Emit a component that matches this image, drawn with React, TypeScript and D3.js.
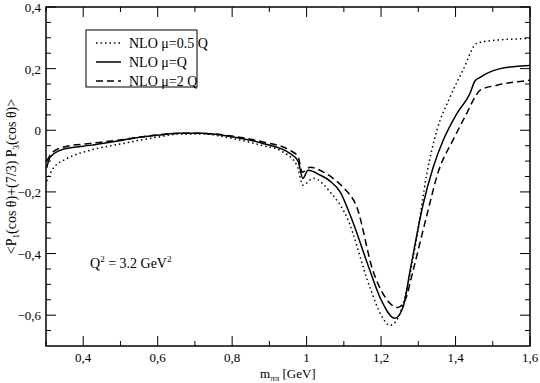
import * as d3 from "d3";
import React from "react";

// masses in GeV
const xsSolid = [0.302, 0.311, 0.338, 0.37, 0.418, 0.507, 0.552, 0.6, 0.66, 0.72, 0.794, 0.883, 0.955, 0.977, 0.99, 1.004, 1.036, 1.063, 1.09, 1.117, 1.17, 1.2, 1.237, 1.26, 1.278, 1.313, 1.34, 1.366, 1.404, 1.439, 1.452, 1.466, 1.49, 1.52, 1.56, 1.6];
const ysSolid = [-0.122, -0.087, -0.065, -0.056, -0.049, -0.032, -0.023, -0.016, -0.01, -0.01, -0.02, -0.043, -0.075, -0.1, -0.156, -0.13, -0.145, -0.165, -0.2, -0.275, -0.455, -0.55, -0.61, -0.57, -0.455, -0.24, -0.12, -0.035, 0.055, 0.12, 0.16, 0.172, 0.188, 0.2, 0.207, 0.21];

const xsDashed = [0.302, 0.319, 0.356, 0.418, 0.507, 0.6, 0.66, 0.72, 0.794, 0.883, 0.955, 0.977, 0.988, 1.01, 1.044, 1.07, 1.098, 1.135, 1.178, 1.21, 1.245, 1.265, 1.286, 1.32, 1.355, 1.393, 1.43, 1.452, 1.466, 1.511, 1.55, 1.6];
const ysDashed = [-0.1, -0.07, -0.052, -0.043, -0.03, -0.015, -0.01, -0.01, -0.018, -0.038, -0.065, -0.085, -0.136, -0.12, -0.135, -0.155, -0.185, -0.25, -0.455, -0.54, -0.575, -0.55, -0.455, -0.29, -0.13, -0.032, 0.055, 0.107, 0.13, 0.146, 0.155, 0.162];

const xsDotted = [0.302, 0.319, 0.356, 0.418, 0.507, 0.6, 0.66, 0.72, 0.794, 0.883, 0.928, 0.974, 0.99, 1.018, 1.063, 1.108, 1.17, 1.2, 1.224, 1.245, 1.27, 1.296, 1.323, 1.35, 1.385, 1.42, 1.457, 1.49, 1.54, 1.6];
const ysDotted = [-0.165, -0.124, -0.092, -0.065, -0.043, -0.022, -0.012, -0.012, -0.025, -0.05, -0.065, -0.114, -0.178, -0.156, -0.2, -0.282, -0.51, -0.6, -0.633, -0.61, -0.51, -0.347, -0.14, 0, 0.107, 0.195, 0.282, 0.29, 0.295, 0.298];

const xMajor = [0.4, 0.6, 0.8, 1.0, 1.2, 1.4, 1.6];
const xMinor = [0.3, 0.5, 0.7, 0.9, 1.1, 1.3, 1.5];
const yMajor = [0.4, 0.2, 0, -0.2, -0.4, -0.6];
const yMinor = [0.35, 0.3, 0.25, 0.15, 0.1, 0.05, -0.05, -0.1, -0.15, -0.25, -0.3, -0.35, -0.45, -0.5, -0.55, -0.65];

const series = [
  { name: "NLO \u03bc=0.5 Q", xs: xsDotted, ys: ysDotted, dash: "1.5,3" },
  { name: "NLO \u03bc=Q", xs: xsSolid, ys: ysSolid, dash: "" },
  { name: "NLO \u03bc=2 Q", xs: xsDashed, ys: ysDashed, dash: "7,4" },
];

const fmt = (v: number) => (Math.abs(v) < 1e-9 ? "0" : v === 1 ? "1" : d3.format(".1f")(v).replace(".", ","));

export default function App() {
  const W = 540, H = 383;
  const left = 46, right = 530, top = 7, bottom = 346;
  const x = d3.scaleLinear().domain([0.3, 1.6]).range([left, right]);
  const y = d3.scaleLinear().domain([-0.7, 0.4]).range([bottom, top]);
  const line = d3
    .line<[number, number]>()
    .x((d) => x(d[0]))
    .y((d) => y(d[1]))
    .curve(d3.curveMonotoneX);

  const font = "'Liberation Serif', serif";

  return (
    <svg width={W} height={H} style={{ position: "absolute", left: 0, top: 0, fontFamily: font }}>
      <rect width={W} height={H} fill="#fff" />
      {/* curves */}
      <g fill="none" stroke="#000" strokeWidth={1.5}>
        {series.map((s) => (
          <path key={s.name} d={line(s.xs.map((v, i) => [v, s.ys[i]]) as [number, number][]) || ""} strokeDasharray={s.dash} />
        ))}
      </g>
      {/* ticks on all four sides, pointing inward */}
      <g stroke="#000" strokeWidth={1}>
        {xMajor.map((v) => (
          <g key={"xM" + v}>
            <line x1={x(v)} x2={x(v)} y1={bottom} y2={bottom - 10} />
            <line x1={x(v)} x2={x(v)} y1={top} y2={top + 10} />
          </g>
        ))}
        {xMinor.map((v) => (
          <g key={"xm" + v}>
            <line x1={x(v)} x2={x(v)} y1={bottom} y2={bottom - 5} />
            <line x1={x(v)} x2={x(v)} y1={top} y2={top + 5} />
          </g>
        ))}
        {yMajor.map((v) => (
          <g key={"yM" + v}>
            <line x1={left} x2={left + 10} y1={y(v)} y2={y(v)} />
            <line x1={right} x2={right - 10} y1={y(v)} y2={y(v)} />
          </g>
        ))}
        {yMinor.map((v) => (
          <g key={"ym" + v}>
            <line x1={left} x2={left + 5} y1={y(v)} y2={y(v)} />
            <line x1={right} x2={right - 5} y1={y(v)} y2={y(v)} />
          </g>
        ))}
      </g>
      <rect x={left} y={top} width={right - left} height={bottom - top} fill="none" stroke="#000" strokeWidth={1.5} />
      {/* tick labels */}
      <g fontSize={13} fill="#000">
        {xMajor.map((v) => (
          <text key={"xl" + v} x={x(v)} y={bottom + 16} textAnchor="middle">
            {fmt(v)}
          </text>
        ))}
        {yMajor.map((v) => (
          <text key={"yl" + v} x={left - 5} y={y(v) + 5} textAnchor="end">
            {fmt(v)}
          </text>
        ))}
      </g>
      {/* axis titles */}
      <text x={260} y={378} fontSize={13}>
        m<tspan fontSize={9} dy={3}>ππ</tspan>
        <tspan dy={-3}> [GeV]</tspan>
      </text>
      <text transform={`translate(16,${(top + bottom) / 2}) rotate(-90)`} textAnchor="middle" fontSize={14}>
        {"<P"}
        <tspan fontSize={9} dy={3}>1</tspan>
        <tspan dy={-3}>{"(cos θ)+(7/3) P"}</tspan>
        <tspan fontSize={9} dy={3}>3</tspan>
        <tspan dy={-3}>{"(cos θ)>"}</tspan>
      </text>
      {/* annotation */}
      <text x={90} y={268} fontSize={14}>
        Q<tspan fontSize={9} dy={-6}>2</tspan>
        <tspan dy={6}> = 3.2 GeV</tspan>
        <tspan fontSize={9} dy={-6}>2</tspan>
      </text>
      {/* legend */}
      <g>
        <rect x={86} y={30} width={111} height={57} fill="#fff" stroke="#000" strokeWidth={1} />
        {series.map((s, i) => (
          <g key={"lg" + s.name} transform={`translate(0,${43 + i * 19})`}>
            <line x1={96} x2={121} y1={0} y2={0} stroke="#000" strokeWidth={1.5} strokeDasharray={s.dash} />
            <text x={129} y={5} fontSize={14}>
              {s.name}
            </text>
          </g>
        ))}
      </g>
    </svg>
  );
}
